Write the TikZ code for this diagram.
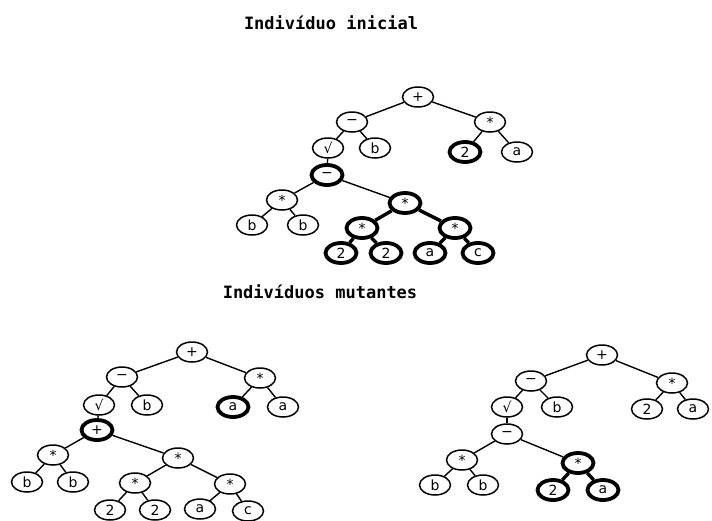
\documentclass[tikz,border=0pt]{standalone}
\usepackage{fontspec}
\newfontfamily\titlefont{DejaVu Sans Mono}
\newfontfamily\labfont{DejaVu Sans}
\usetikzlibrary{shapes.geometric}
\tikzset{
  tn/.style={ellipse, draw, line width=1.5pt, minimum width=31pt, minimum height=20pt, inner sep=0pt, font=\labfont\fontsize{14}{14}\selectfont, fill=white},
  tk/.style={tn, line width=3.8pt},
  ed/.style={line width=1.4pt},
  edk/.style={line width=3.4pt},
  ttl/.style={font=\titlefont\bfseries\fontsize{17}{17}\selectfont, inner sep=0pt}
}
\begin{document}
\begin{tikzpicture}[x=1pt,y=-1pt]
\useasboundingbox[fill=white] (0,0) rectangle (712,520);
\node[ttl] (t1) at (331,23) {Indivíduo inicial};
\node[ttl] (t2) at (320,292) {Indivíduos mutantes};
% top tree
\node[tn] (a1) at (418,97) {+};
\node[tn] (a2) at (352,122) {−};
\node[tn] (a3) at (490,122) {*};
\node[tn] (a4) at (328,148) {√};
\node[tn] (a5) at (375,148) {b};
\node[tk] (a6) at (465,152) {2};
\node[tn] (a7) at (517,152) {a};
\node[tk] (a8) at (327,175) {−};
\node[tn] (a9) at (282,200) {*};
\node[tk] (a10) at (405,203) {*};
\node[tn] (a11) at (252,225) {b};
\node[tn] (a12) at (303,225) {b};
\node[tk] (a13) at (362,228) {*};
\node[tk] (a14) at (455,228) {*};
\node[tk] (a15) at (341,253) {2};
\node[tk] (a16) at (386,253) {2};
\node[tk] (a17) at (430,253) {a};
\node[tk] (a18) at (478,253) {c};
\draw[ed] (a1)--(a2); \draw[ed] (a1)--(a3);
\draw[ed] (a2)--(a4); \draw[ed] (a2)--(a5);
\draw[ed] (a3)--(a6); \draw[ed] (a3)--(a7);
\draw[ed] (a4)--(a8);
\draw[ed] (a8)--(a9); \draw[ed] (a8)--(a10);
\draw[ed] (a9)--(a11); \draw[ed] (a9)--(a12);
\draw[edk] (a10)--(a13); \draw[edk] (a10)--(a14);
\draw[edk] (a13)--(a15); \draw[edk] (a13)--(a16);
\draw[edk] (a14)--(a17); \draw[edk] (a14)--(a18);
% bottom left tree
\node[tn] (b1) at (192,352) {+};
\node[tn] (b2) at (122,377) {−};
\node[tn] (b3) at (260,378) {*};
\node[tn] (b4) at (99,405) {√};
\node[tn] (b5) at (147,405) {b};
\node[tk] (b6) at (233,407) {a};
\node[tn] (b7) at (283,407) {a};
\node[tk] (b8) at (97,430) {+};
\node[tn] (b9) at (53,455) {*};
\node[tn] (b10) at (178,458) {*};
\node[tn] (b11) at (27,482) {b};
\node[tn] (b12) at (73,482) {b};
\node[tn] (b13) at (135,483) {*};
\node[tn] (b14) at (230,484) {*};
\node[tn] (b15) at (110,510) {2};
\node[tn] (b16) at (155,510) {2};
\node[tn] (b17) at (200,509) {a};
\node[tn] (b18) at (248,511) {c};
\draw[ed] (b1)--(b2); \draw[ed] (b1)--(b3);
\draw[ed] (b2)--(b4); \draw[ed] (b2)--(b5);
\draw[ed] (b3)--(b6); \draw[ed] (b3)--(b7);
\draw[ed] (b4)--(b8);
\draw[ed] (b8)--(b9); \draw[ed] (b8)--(b10);
\draw[ed] (b9)--(b11); \draw[ed] (b9)--(b12);
\draw[ed] (b10)--(b13); \draw[ed] (b10)--(b14);
\draw[ed] (b13)--(b15); \draw[ed] (b13)--(b16);
\draw[ed] (b14)--(b17); \draw[ed] (b14)--(b18);
% bottom right tree
\node[tn] (c1) at (602,355) {+};
\node[tn] (c2) at (531,381) {−};
\node[tn] (c3) at (672,383) {*};
\node[tn] (c4) at (507,407) {√};
\node[tn] (c5) at (557,407) {b};
\node[tn] (c6) at (647,409) {2};
\node[tn] (c7) at (693,409) {a};
\node[tn] (c8) at (507,434) {−};
\node[tn] (c9) at (462,460) {*};
\node[tk] (c10) at (578,463) {*};
\node[tn] (c11) at (435,485) {b};
\node[tn] (c12) at (483,485) {b};
\node[tk] (c13) at (553,490) {2};
\node[tk] (c14) at (603,490) {a};
\draw[ed] (c1)--(c2); \draw[ed] (c1)--(c3);
\draw[ed] (c2)--(c4); \draw[ed] (c2)--(c5);
\draw[ed] (c3)--(c6); \draw[ed] (c3)--(c7);
\draw[ed] (c4)--(c8);
\draw[ed] (c8)--(c9); \draw[ed] (c8)--(c10);
\draw[ed] (c9)--(c11); \draw[ed] (c9)--(c12);
\draw[edk] (c10)--(c13); \draw[edk] (c10)--(c14);
\end{tikzpicture}
\end{document}
